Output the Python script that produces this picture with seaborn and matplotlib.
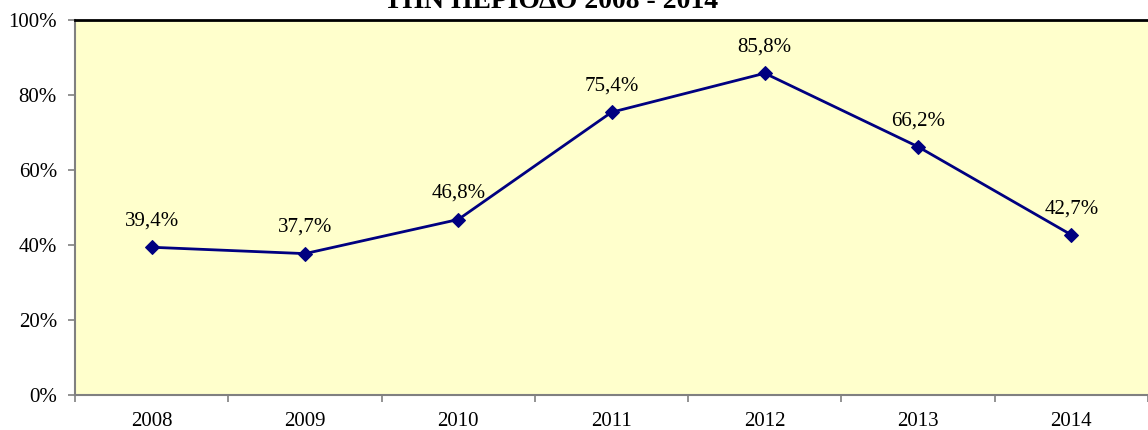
import matplotlib
matplotlib.use("Agg")
import matplotlib.pyplot as plt
import seaborn as sns
import pandas as pd
from matplotlib.ticker import FixedLocator

years = ["2008", "2009", "2010", "2011", "2012", "2013", "2014"]
values = [39.4, 37.7, 46.8, 75.4, 85.8, 66.2, 42.7]
y_ticks = [0, 20, 40, 60, 80, 100]
title = "ΤΗΝ ΠΕΡΙΟΔΟ 2008 - 2014"

df = pd.DataFrame({"year": years, "value": values})

sns.set_theme(style="white")
plt.rcParams["font.family"] = ["Liberation Serif", "DejaVu Serif"]
plt.rcParams["text.color"] = "black"
plt.rcParams["xtick.color"] = "black"
plt.rcParams["ytick.color"] = "black"

fig = plt.figure(figsize=(11.48, 4.30), dpi=100)
ax = fig.add_axes([75 / 1148, 35 / 430, 1073 / 1148, 375 / 430])
ax.set_facecolor("#FFFFCC")

sns.lineplot(data=df, x="year", y="value", ax=ax, color="#000080",
             linewidth=2, marker="D", markersize=7, markeredgecolor="#000080")

# data labels above each point
for i, v in enumerate(values):
    ax.annotate(f"{v:.1f}%".replace(".", ","), (i, v), xytext=(0, 12),
                textcoords="offset points", ha="center", va="bottom", fontsize=15)

ax.set_xlim(-0.5, len(years) - 0.5)
ax.set_ylim(0, 100)
ax.set_yticks(y_ticks)
ax.set_yticklabels([f"{t}%" for t in y_ticks], fontsize=15)
ax.set_xticks(range(len(years)))
ax.set_xticklabels(years, fontsize=15)
ax.tick_params(axis="x", which="major", bottom=True, length=0, pad=12)
ax.xaxis.set_minor_locator(FixedLocator([i - 0.5 for i in range(len(years) + 1)]))
ax.tick_params(axis="x", which="minor", bottom=True, length=5, color="#808080",
               width=1.2, direction="out")
ax.tick_params(axis="y", left=True, length=5, color="#808080", width=1.2,
               direction="out", pad=8)
ax.set_xlabel("")
ax.set_ylabel("")

for side in ["left", "bottom"]:
    ax.spines[side].set_color("#808080")
    ax.spines[side].set_linewidth(1.5)
ax.spines["top"].set_color("black")
ax.spines["top"].set_linewidth(2)
ax.spines["right"].set_visible(False)

fig.text(0.48, 1 - 8 / 430, title, ha="center", va="baseline",
         fontsize=20, fontweight="bold")

fig.savefig("out.png", dpi=100)
